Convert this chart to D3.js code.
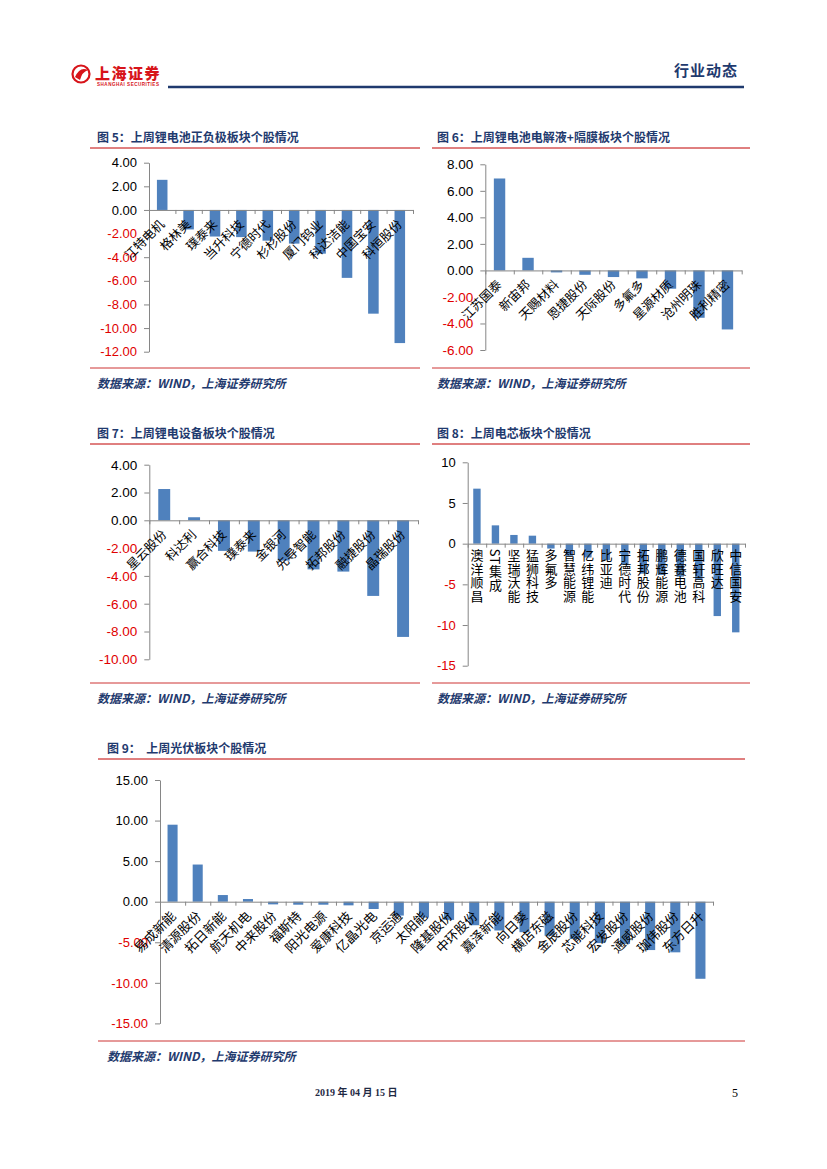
<!DOCTYPE html>
<html><head><meta charset="utf-8">
<script src="https://cdn.jsdelivr.net/npm/d3@7"></script>
<style>
html,body{margin:0;padding:0;background:#fff;}
svg{display:block;}
.cat{font-family:"Noto Sans CJK SC",sans-serif;fill:#000;}
.tick text{font-family:"Liberation Sans",Arial,sans-serif;}
</style></head>
<body>
<svg id="page" width="827" height="1169"></svg>
<script>
// ---------- DATA ----------
const c5Names = ["江特电机","格林美","璞泰来","当升科技","宁德时代","杉杉股份","厦门钨业","科达洁能","中国宝安","科恒股份"];
const c5Values = [2.55,-1.65,-2.25,-2.3,-2.6,-2.85,-3.7,-5.75,-8.78,-11.27];
const c5Ticks = [4,2,0,-2,-4,-6,-8,-10,-12];

const c6Names = ["江苏国泰","新宙邦","天赐材料","恩捷股份","天际股份","多氟多","星源材质","沧州明珠","胜利精密"];
const c6Values = [6.93,0.95,-0.15,-0.33,-0.5,-0.6,-1.38,-3.57,-4.45];
const c6Ticks = [8,6,4,2,0,-2,-4,-6];

const c7Names = ["星云股份","科达利","赢合科技","璞泰来","金银河","先导智能","拓邦股份","融捷股份","晶瑞股份"];
const c7Values = [2.25,0.22,-2.2,-2.25,-2.9,-3.53,-3.69,-5.44,-8.39];
const c7Ticks = [4,2,0,-2,-4,-6,-8,-10];

const c8Names = ["澳洋顺昌","ST集成","坚瑞沃能","猛狮科技","多氟多","智慧能源","亿纬锂能","比亚迪","宁德时代","拓邦股份","鹏辉能源","德赛电池","国轩高科","欣旺达","中信国安"];
const c8Values = [6.76,2.25,1.07,0.98,-0.6,-1.5,-1.7,-2.0,-2.6,-3.69,-3.85,-4.05,-4.4,-8.9,-10.9];
const c8Ticks = [10,5,0,-5,-10,-15];

const c9Names = ["易成新能","清源股份","拓日新能","航天机电","中来股份","福斯特","阳光电源","爱康科技","亿晶光电","京运通","太阳能","隆基股份","中环股份","嘉泽新能","向日葵","横店东磁","金辰股份","芯能科技","宏发股份","通威股份","珈伟股份","东方日升"];
const c9Values = [9.49,4.58,0.82,0.33,-0.33,-0.37,-0.37,-0.45,-0.9,-1.71,-1.96,-2.24,-2.9,-3.55,-3.76,-4.2,-4.6,-5.1,-5.2,-5.96,-6.24,-9.5];
const c9Ticks = [15,10,5,0,-5,-10,-15];

const titles = ["图 5：上周锂电池正负极板块个股情况","图 6：上周锂电池电解液+隔膜板块个股情况","图 7：上周锂电设备板块个股情况","图 8：上周电芯板块个股情况","图 9：  上周光伏板块个股情况"];
const sourceText = "数据来源：WIND，上海证券研究所";

// ---------- DRAW ----------
const svg = d3.select("#page");
const NAVY = "#1F3A6E", RED = "#C00000", BAR = "#4F81BD", AXIS = "#868686";

// header
const logo = svg.append("g");
logo.append("circle").attr("cx",81).attr("cy",74).attr("r",8.5).attr("fill","none").attr("stroke","#D7141A").attr("stroke-width",2.2);
logo.append("path").attr("d","M75,77 Q80,66 88,70 Q82,72 80,80 Z").attr("fill","#D7141A");
logo.append("text").attr("x",95).attr("y",79).attr("font-family","Noto Sans CJK SC").attr("font-weight",900)
  .attr("font-size",15).attr("fill","#D7141A").attr("letter-spacing",1.5).text("上海证券");
logo.append("text").attr("x",97).attr("y",85.5).attr("font-family","Liberation Sans").attr("font-weight",700)
  .attr("font-size",4.6).attr("fill","#D7141A").attr("textLength",62).text("SHANGHAI SECURITIES");
svg.append("line").attr("x1",168).attr("x2",744).attr("y1",87).attr("y2",87).attr("stroke",NAVY).attr("stroke-width",2.5);
svg.append("text").attr("x",738).attr("y",76).attr("text-anchor","end").attr("font-family","Noto Sans CJK SC")
  .attr("font-weight",700).attr("font-size",15).attr("fill",NAVY).attr("letter-spacing",1).text("行业动态");

// panels
function panel(tx, ty, lx1, lx2, lineTop, lineBot, srcY, title){
  svg.append("text").attr("x",tx).attr("y",ty).attr("font-family","Noto Sans CJK SC").attr("font-weight",700)
    .attr("font-size",12).attr("fill",NAVY).style("white-space","pre").text(title);
  svg.append("line").attr("x1",lx1).attr("x2",lx2).attr("y1",lineTop).attr("y2",lineTop).attr("stroke",RED).attr("stroke-width",1);
  svg.append("line").attr("x1",lx1).attr("x2",lx2).attr("y1",lineBot).attr("y2",lineBot).attr("stroke",RED).attr("stroke-width",0.8);
  svg.append("text").attr("x",tx).attr("y",srcY).attr("font-family","Noto Sans CJK SC").attr("font-weight",700)
    .attr("font-style","italic").attr("font-size",12).attr("fill",NAVY).text(sourceText);
}
panel(97,142,90,420,148,368,388,titles[0]);
panel(437,142,432,750,148,368,388,titles[1]);
panel(97,438,90,420,444,683,703,titles[2]);
panel(437,438,432,750,444,683,703,titles[3]);
panel(107,753,98,745,759,1041,1061,titles[4]);

function drawChart(cfg){
  const g = svg.append("g");
  const y = d3.scaleLinear().domain([cfg.min,cfg.max]).range([cfg.yb,cfg.yt]);
  const x = d3.scaleBand().domain(cfg.names).range([cfg.x0,cfg.x1]).paddingInner(0.6).paddingOuter(0.3);
  const y0 = y(0);
  const data = cfg.names.map((n,i)=>({n, v:cfg.values[i]}));
  g.selectAll("rect.bar").data(data).join("rect").attr("class","bar")
    .attr("x",d=>x(d.n)).attr("width",x.bandwidth())
    .attr("y",d=>Math.min(y(d.v),y0)).attr("height",d=>Math.abs(y(d.v)-y0)).attr("fill",BAR);
  // y axis
  const ya = g.append("g").attr("transform",`translate(${cfg.x0},0)`)
    .call(d3.axisLeft(y).tickValues(cfg.ticks).tickFormat(cfg.fmt).tickSize(5).tickSizeOuter(0).tickPadding(7));
  ya.select(".domain").attr("stroke",AXIS);
  ya.selectAll(".tick line").attr("stroke",AXIS);
  ya.selectAll(".tick text").attr("font-size",cfg.tfs).attr("fill",d=>d<0?"#E00000":"#000");
  // x axis (category boundaries)
  const xb = d3.scaleLinear().domain([0,cfg.names.length]).range([cfg.x0,cfg.x1]);
  const xa = g.append("g").attr("transform",`translate(0,${y0})`)
    .call(d3.axisBottom(xb).tickValues(d3.range(cfg.names.length+1)).tickFormat("").tickSize(4).tickSizeOuter(0));
  xa.select(".domain").attr("stroke",AXIS);
  xa.selectAll(".tick line").attr("stroke",AXIS);
  // category labels
  if(cfg.vertical){
    g.selectAll("text.cat").data(data).join("text").attr("class","cat")
      .attr("x",d=>x(d.n)+x.bandwidth()/2).attr("y",y0+5)
      .style("writing-mode","vertical-rl").style("letter-spacing","0.5px")
      .attr("font-size",cfg.lfs).text(d=>d.n);
  } else {
    g.selectAll("text.cat").data(data).join("text").attr("class","cat")
      .attr("transform",d=>`translate(${x(d.n)+x.bandwidth()/2+cfg.ldx},${y0+cfg.ldy}) rotate(-45)`)
      .attr("text-anchor","end").attr("dy","0.35em").attr("font-size",cfg.lfs).text(d=>d.n);
  }
}
const f2 = v=>v.toFixed(2);
const f0 = v=>String(v);
drawChart({names:c5Names,values:c5Values,ticks:c5Ticks,min:-12,max:4,x0:149,x1:413,yt:162.7,yb:351.7,fmt:f2,tfs:13,lfs:12.5,ldx:0,ldy:12});
drawChart({names:c6Names,values:c6Values,ticks:c6Ticks,min:-6,max:8,x0:485.3,x1:741.7,yt:164.3,yb:350,fmt:f2,tfs:13.5,lfs:12.5,ldx:0,ldy:12});
drawChart({names:c7Names,values:c7Values,ticks:c7Ticks,min:-10,max:4,x0:149.3,x1:418,yt:464.7,yb:659.3,fmt:f2,tfs:13.5,lfs:12.5,ldx:0,ldy:12});
drawChart({names:c8Names,values:c8Values,ticks:c8Ticks,min:-15,max:10,x0:467.7,x1:745,yt:462.3,yb:665.7,fmt:f0,tfs:13,lfs:13,vertical:true});
drawChart({names:c9Names,values:c9Values,ticks:c9Ticks,min:-15,max:15,x0:160,x1:713,yt:780,yb:1023.4,fmt:f2,tfs:13,lfs:13,ldx:1,ldy:12});

// footer
svg.append("text").attr("x",315).attr("y",1096).attr("font-family","Liberation Serif, Noto Sans CJK SC").attr("font-weight",700)
  .attr("font-size",10).attr("fill","#1F2A44").text("2019 年 04 月 15 日");
svg.append("text").attr("x",732).attr("y",1097).attr("font-family","Liberation Serif").attr("font-size",12).attr("fill","#000").text("5");
</script>
</body></html>
